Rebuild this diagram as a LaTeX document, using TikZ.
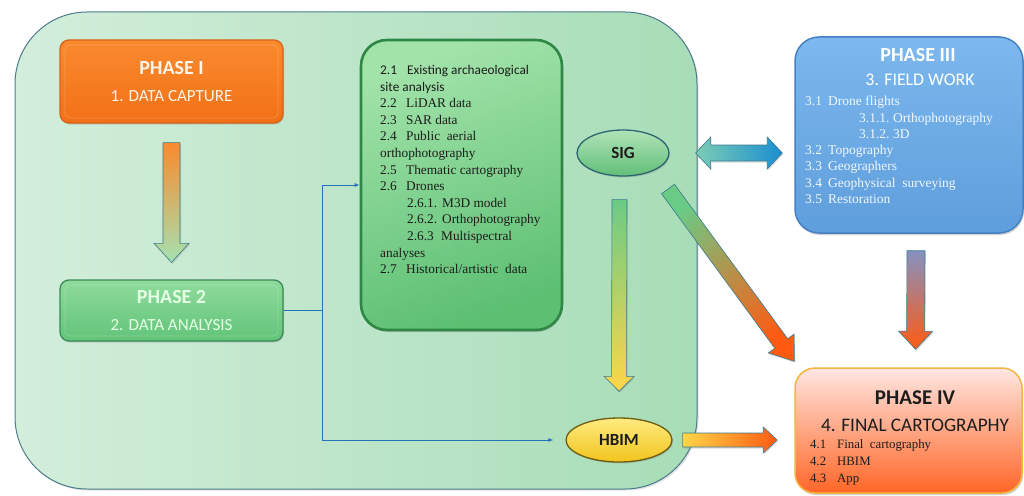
\documentclass[tikz,border=0pt]{standalone}
\usepackage{fontspec}
\setmainfont{Liberation Serif}
\newfontfamily\headfont{Carlito}
\usetikzlibrary{calc,shadows,arrows.meta,shapes.geometric}

% palette
\definecolor{frameEdge}{HTML}{4C7D8C}
\definecolor{mintL}{HTML}{D3EEDB}
\definecolor{mintR}{HTML}{A7DDB7}
\definecolor{orTop}{HTML}{FA8A2E}
\definecolor{orBot}{HTML}{F27017}
\definecolor{orEdge}{HTML}{D8621A}
\definecolor{grTop}{HTML}{8EDB9C}
\definecolor{grBot}{HTML}{62C479}
\definecolor{grEdge}{HTML}{3A8A57}
\definecolor{dataL}{HTML}{A2E3AA}
\definecolor{dataR}{HTML}{5CBF72}
\definecolor{dataEdge}{HTML}{2F8746}
\definecolor{blTop}{HTML}{7DB8EE}
\definecolor{blBot}{HTML}{5E9EDC}
\definecolor{blEdge}{HTML}{4780C2}
\definecolor{pkTop}{HTML}{FFE6E2}
\definecolor{pkMid}{HTML}{FFAE8E}
\definecolor{pkBot}{HTML}{FF6626}
\definecolor{pkEdge}{HTML}{F2B640}
\definecolor{sigTop}{HTML}{B0E3B8}
\definecolor{sigBot}{HTML}{62BF78}
\definecolor{sigEdge}{HTML}{2D6571}
\definecolor{ylTop}{HTML}{FFEB80}
\definecolor{ylBot}{HTML}{F2C41E}
\definecolor{ylEdge}{HTML}{6E5C12}
\definecolor{linkBlue}{HTML}{2272BC}
\definecolor{arrEdge}{HTML}{3C7A8C}
\definecolor{arrOrange}{HTML}{FF5A12}
\definecolor{arrGreen}{HTML}{6ACB86}
\definecolor{arrYellow}{HTML}{FFD648}
\definecolor{arrBlue}{HTML}{1A8ED0}
\definecolor{arrTeal}{HTML}{7CCDB4}
\definecolor{arrSlate}{HTML}{8592C2}
\definecolor{arrMid}{HTML}{C9913A}
\definecolor{ink}{HTML}{1C1C1C}
\definecolor{paleInk}{HTML}{F2F7FF}

% block arrow: start, tip, half shaft, half head, head length, style
\newcommand\blockarrow[6]{%
  \coordinate (ba-n) at ($(#2)!#5!(#1)$);
  \path[#6] ($(#1)!#3!90:(#2)$) -- ($(ba-n)!#3!-90:(#1)$) -- ($(ba-n)!#4!-90:(#1)$)
    -- (#2) -- ($(ba-n)!#4!90:(#1)$) -- ($(ba-n)!#3!90:(#1)$) -- ($(#1)!#3!-90:(#2)$) -- cycle;
}
% two-headed block arrow: tip 1, tip 2, half shaft, half head, head length, style
\newcommand\twinarrow[6]{%
  \coordinate (da-a) at ($(#1)!#5!(#2)$);
  \coordinate (da-b) at ($(#2)!#5!(#1)$);
  \path[#6] (#1) -- ($(da-a)!#4!90:(#2)$) -- ($(da-a)!#3!90:(#2)$) -- ($(da-b)!#3!-90:(#1)$)
    -- ($(da-b)!#4!-90:(#1)$) -- (#2) -- ($(da-b)!#4!90:(#1)$) -- ($(da-b)!#3!90:(#1)$)
    -- ($(da-a)!#3!-90:(#2)$) -- ($(da-a)!#4!-90:(#2)$) -- cycle;
}

\tikzset{
  frame/.style={draw=frameEdge, line width=1pt, rounded corners=72pt,
    left color=mintL, right color=mintR,
    drop shadow={opacity=0.25, shadow xshift=1.5pt, shadow yshift=-1.5pt}},
  bevel/.style={path picture={\draw[white, opacity=0.2, line width=0.7pt, rounded corners=6pt]
    ([shift={(5pt,-5pt)}]path picture bounding box.north west) rectangle
    ([shift={(-5pt,5pt)}]path picture bounding box.south east);}},
  phasebox/.style={rounded corners=9pt, line width=1.3pt, align=center, inner sep=0pt,
    font=\headfont\fontsize{17}{27}\selectfont, bevel,
    drop shadow={opacity=0.3, shadow xshift=1pt, shadow yshift=-1.5pt}},
  bigbox/.style={rounded corners=24pt, line width=1.5pt, inner sep=0pt,
    drop shadow={opacity=0.35, shadow xshift=1pt, shadow yshift=-2pt}},
  oval/.style={ellipse, inner sep=0pt, line width=1.3pt, font=\headfont\bfseries\fontsize{17}{20}\selectfont,
    text=ink, drop shadow={opacity=0.3, shadow xshift=1pt, shadow yshift=-1.5pt}},
  listtext/.style={anchor=north west, align=left, inner sep=0pt},
  headtext/.style={align=center, inner sep=0pt, font=\headfont},
  link/.style={draw=linkBlue, line width=0.8pt, -{Latex[length=5pt,width=4pt]}},
  flow/.style={draw=arrEdge, line width=0.6pt,
    drop shadow={opacity=0.25, shadow xshift=1pt, shadow yshift=-1.5pt}},
}

\begin{document}
\begin{tikzpicture}[x=1pt, y=-1pt]
\fill[white] (0,0) rectangle (1024,495);
\useasboundingbox (0,0) rectangle (1024,495);

% working area
\node[frame, minimum width=682pt, minimum height=477pt] (frame) at (356,250.5) {};

% phase boxes on the left
\node[phasebox, top color=orTop, bottom color=orBot, draw=orEdge, text=white!92!orange,
  minimum width=223pt, minimum height=83pt] (p1) at (171.5,81.5)
  {{\bfseries\fontsize{20}{27}\selectfont PHASE I}\\1. DATA CAPTURE};
\node[phasebox, top color=grTop, bottom color=grBot, draw=grEdge, text=white!90!green,
  minimum width=223pt, minimum height=61pt] (p2) at (171.5,310.5)
  {{\bfseries\fontsize{20}{26}\selectfont PHASE 2}\\2. DATA ANALYSIS};

% data sources
\node[bigbox, rounded corners=26pt, line width=2.6pt, draw=dataEdge, top color=dataL, bottom color=dataR,
  shading angle=20, minimum width=201pt, minimum height=290pt] (data) at (461.5,185) {};
\node[listtext, text=ink, font=\fontsize{13.3}{16.6}\selectfont] (datalist) at (380,65)
  {{\headfont\makebox[27pt][l]{2.1}Existing archaeological}\\
   {\headfont site analysis}\\
   \makebox[26pt][l]{2.2}LiDAR data\\
   \makebox[26pt][l]{2.3}SAR data\\
   \makebox[26pt][l]{2.4}Public\ \ aerial\\
   orthophotography\\
   \makebox[26pt][l]{2.5}Thematic cartography\\
   \makebox[26pt][l]{2.6}Drones\\
   \hspace*{27pt}\makebox[35pt][l]{2.6.1.}M3D model\\
   \hspace*{27pt}\makebox[35pt][l]{2.6.2.}Orthophotography\\
   \hspace*{27pt}\makebox[34pt][l]{2.6.3}Multispectral\\
   analyses\\
   \makebox[26pt][l]{2.7}Historical/artistic\ \ data};

% GIS and HBIM
\node[oval, top color=sigTop, bottom color=sigBot, draw=sigEdge,
  minimum width=92pt, minimum height=46pt] (sig) at (623,153) {SIG};
\node[oval, top color=ylTop, bottom color=ylBot, draw=ylEdge,
  minimum width=106pt, minimum height=44pt] (hbim) at (619,440) {HBIM};

% field work
\node[bigbox, draw=blEdge, top color=blTop, bottom color=blBot,
  minimum width=228pt, minimum height=196pt] (p3) at (909,135) {};
\node[headtext, text=white, font=\headfont\bfseries\fontsize{20}{22}\selectfont] (p3title) at (918,55) {PHASE III};
\node[headtext, text=white, font=\headfont\fontsize{17.8}{22}\selectfont] (p3sub) at (920,80) {3. FIELD WORK};
\node[listtext, text=paleInk, font=\fontsize{13.5}{16.3}\selectfont] (p3list) at (805,96)
  {\makebox[23pt][l]{3.1}Drone flights\\
   \hspace*{54pt}\makebox[34pt][l]{3.1.1.}Orthophotography\\
   \hspace*{54pt}\makebox[34pt][l]{3.1.2.}3D\\
   \makebox[23pt][l]{3.2}Topography\\
   \makebox[23pt][l]{3.3}Geographers\\
   \makebox[23pt][l]{3.4}Geophysical\ \ surveying\\
   \makebox[23pt][l]{3.5}Restoration};

% final cartography
\node[bigbox, rounded corners=20pt, draw=pkEdge, top color=pkTop, middle color=pkMid, bottom color=pkBot,
  minimum width=227pt, minimum height=125pt] (p4) at (908.5,430.5) {};
\node[headtext, text=ink, font=\headfont\bfseries\fontsize{21}{24}\selectfont] (p4title) at (915,398) {PHASE IV};
\node[headtext, text=ink, font=\headfont\fontsize{19.2}{22}\selectfont] (p4sub) at (915,425) {4. FINAL CARTOGRAPHY};
\node[listtext, text=ink, font=\fontsize{12.8}{17}\selectfont] (p4list) at (810,439.5)
  {\makebox[27pt][l]{4.1}Final\ \ cartography\\
   \makebox[27pt][l]{4.2}HBIM\\
   \makebox[27pt][l]{4.3}App};

% thin links out of the analysis phase
\coordinate (split) at ($(p2.east)+(39,0)$);
\draw[link] (p2.east) -- (split) |- (data.west);
\draw[link, shorten >=12pt] (split) |- (hbim.west);

% block arrows
\coordinate (a1s) at ($(p1.south)+(0,19)$);
\coordinate (a1e) at ($(p2.north)+(0,-17)$);
\blockarrow{a1s}{a1e}{8.5pt}{17.5pt}{19pt}{flow, top color=orTop, bottom color=grTop!80!white}

\coordinate (a2s) at ($(sig.south)+(-3.5,23)$);
\coordinate (a2e) at ($(hbim.north)+(0,-26)$);
\blockarrow{a2s}{a2e}{7.5pt}{15pt}{15pt}{flow, top color=arrGreen, bottom color=arrYellow}

\coordinate (a3s) at ($(sig)+(45,36)$);
\coordinate (a3e) at ($(p4.north west)+(0,-6)$);
\blockarrow{a3s}{a3e}{8pt}{16pt}{22pt}{flow, top color=arrGreen, middle color=arrMid, bottom color=arrOrange, shading angle=36}

\coordinate (a4s) at ($(p3.south)+(7,17)$);
\coordinate (a4e) at ($(p4.north)+(7,-18)$);
\blockarrow{a4s}{a4e}{9pt}{17pt}{18pt}{flow, top color=arrSlate, bottom color=arrOrange}

\coordinate (a5s) at ($(hbim.east)+(10,0)$);
\coordinate (a5e) at ($(p4.west |- hbim.east)+(-17,0)$);
\blockarrow{a5s}{a5e}{7pt}{13pt}{14pt}{flow, left color=arrYellow, right color=arrOrange}

\coordinate (a6s) at ($(sig.east)+(26,0)$);
\coordinate (a6e) at ($(p3.west |- sig.east)+(-12,0)$);
\twinarrow{a6s}{a6e}{8pt}{16pt}{15pt}{flow, left color=arrTeal, middle color=cyan!25!white, right color=arrBlue}
\end{tikzpicture}
\end{document}
